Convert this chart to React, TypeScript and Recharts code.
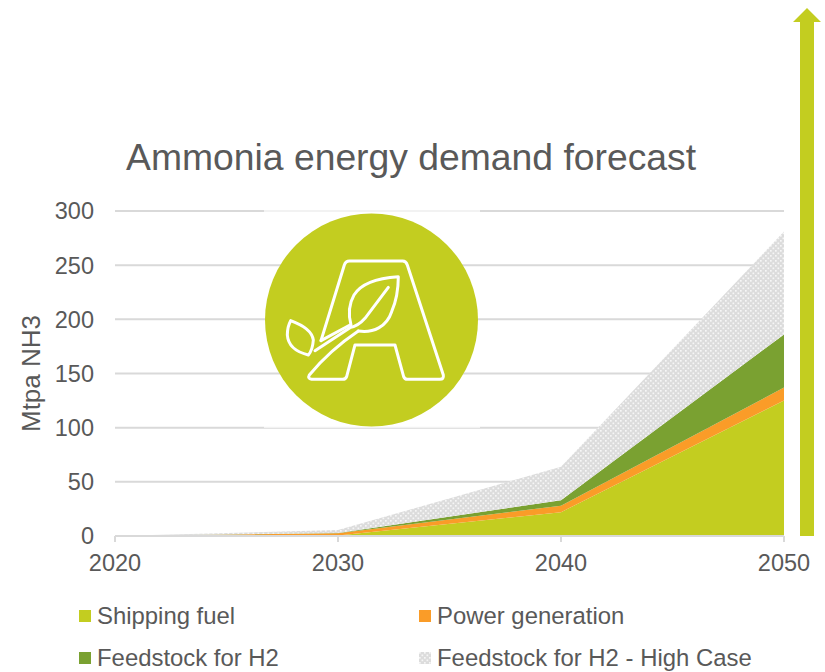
import { AreaChart, Area, XAxis, YAxis, CartesianGrid, Legend, Label } from "recharts";

const years = [2020, 2030, 2040, 2050];
const shippingFuel = [0, 0.5, 22, 125];
const powerGeneration = [0, 2, 6, 12];
const feedstockH2 = [0, 0.3, 5, 49];
const feedstockHighCase = [0, 2.7, 31, 95];
const yTicks = [0, 50, 100, 150, 200, 250, 300];

const names = ["Shipping fuel", "Power generation", "Feedstock for H2", "Feedstock for H2 - High Case"];
const fills = ["#c3cd20", "#fa9c28", "#7aa131", "url(#hatch)"];

const data = years.map((year, i) => ({
  year,
  shipping: shippingFuel[i],
  power: powerGeneration[i],
  feedstock: feedstockH2[i],
  high: feedstockHighCase[i],
}));

const TEXT = "#595959";
const FONT = "'Liberation Sans', Arial, sans-serif";

// legend is laid out by hand, two rows of two
function ChartLegend() {
  const spots = [
    { x: 79, y: 604 },
    { x: 419, y: 604 },
    { x: 79, y: 646 },
    { x: 419, y: 646 },
  ];
  return (
    <div style={{ position: "relative", width: 0, height: 0 }}>
      {names.map((name, i) => (
        <div
          key={name}
          style={{
            position: "absolute",
            left: spots[i].x,
            top: spots[i].y,
            height: 24,
            display: "flex",
            alignItems: "center",
            whiteSpace: "nowrap",
            fontSize: 23.9,
            lineHeight: "24px",
            color: TEXT,
          }}
        >
          <svg width={12} height={12} style={{ marginRight: 6, display: "block" }}>
            <rect width={12} height={12} fill={fills[i]} />
          </svg>
          {name}
        </div>
      ))}
    </div>
  );
}

function Logo() {
  return (
    <g>
      {/* the logo image sits on a white box, which only fades the 300 and 100 lines */}
      <rect x={264} y={210} width={216} height={2} fill="#fff" fillOpacity={0.65} />
      <rect x={264} y={426} width={216} height={2} fill="#fff" fillOpacity={0.65} />
      <circle cx={371.5} cy={320} r={106.5} fill="#c3cd20" />
      <g
        transform="translate(250 200) scale(0.3333)"
        fill="none"
        stroke="#fff"
        strokeWidth={9}
        strokeLinejoin="round"
        strokeLinecap="round"
      >
        <path d="M213 422 L283 195 Q287 183 298 183 L458 183 Q468 183 472 195 L580 525 Q582 538 570 538 L472 538 Q464 538 461 530 L435 435 L315 435 L290 530 Q287 538 278 538 L185 538 Q172 536 178 525 Q240 450 325 393" />
        <path d="M213 422 L300 375" />
        <path d="M195 452 L300 383 Q325 378 345 355 L415 262" />
        <path d="M325 393 C370 400 410 380 425 335 C440 300 445 265 445 230 C370 235 330 255 312 285 C295 315 295 345 303 375" />
        <path d="M122 362 Q185 385 190 420 Q188 450 175 465 Q115 450 112 405 Q112 380 122 362 Z" />
      </g>
    </g>
  );
}

export default function App() {
  return (
    <div style={{ position: "absolute", left: 0, top: 0, width: 825, height: 672, fontFamily: FONT, background: "#fff" }}>
      <svg width={825} height={672} style={{ position: "absolute", left: 0, top: 0 }}>
        <defs>
          <pattern id="hatch" patternUnits="userSpaceOnUse" width={5} height={5}>
            <rect width={5} height={5} fill="#dcdcdc" />
            <rect width={1.7} height={1.7} fill="#f6f6f6" />
            <rect x={2.5} y={2.5} width={1.7} height={1.7} fill="#f6f6f6" />
          </pattern>
        </defs>
      </svg>
      <AreaChart
        width={825}
        height={672}
        data={data}
        margin={{ top: 211, right: 41, bottom: 106, left: 55 }}
        style={{ position: "absolute", left: 0, top: 0 }}
      >
        <CartesianGrid stroke="#d9d9d9" strokeWidth={2} vertical={false} />
        <XAxis
          dataKey="year"
          type="number"
          domain={[2020, 2050]}
          ticks={years}
          height={30}
          interval={0}
          stroke="#d9d9d9"
          strokeWidth={2}
          tickSize={6}
          tickMargin={12}
          tick={{ fill: TEXT, fontSize: 23.5 }}
        />
        <YAxis
          domain={[0, 300]}
          ticks={yTicks}
          width={60}
          axisLine={false}
          tickLine={false}
          tickMargin={15}
          tick={{ fill: TEXT, fontSize: 23.5 }}
        >
          <Label value="Mtpa NH3" angle={-90} position="insideLeft" offset={-24} dy={0} style={{ fill: TEXT, fontSize: 26, textAnchor: "middle" }} />
        </YAxis>
        <Area dataKey="shipping" stackId="a" stroke="none" fill={fills[0]} fillOpacity={1} isAnimationActive={false} />
        <Area dataKey="power" stackId="a" stroke="none" fill={fills[1]} fillOpacity={1} isAnimationActive={false} />
        <Area dataKey="feedstock" stackId="a" stroke="none" fill={fills[2]} fillOpacity={1} isAnimationActive={false} />
        <Area dataKey="high" stackId="a" stroke="none" fill={fills[3]} fillOpacity={1} isAnimationActive={false} />
        <Legend content={ChartLegend} wrapperStyle={{ left: 0, top: 0, bottom: "auto", width: 0, height: 0 }} />
      </AreaChart>
      <svg width={825} height={672} style={{ position: "absolute", left: 0, top: 0 }}>
        <Logo />
        <polygon points="807,8 821,22 814,22 814,536 800,536 800,22 793,22" fill="#c3cd20" />
        <text x={126} y={170} fontSize={37.3} fill={TEXT}>Ammonia energy demand forecast</text>
      </svg>
    </div>
  );
}
